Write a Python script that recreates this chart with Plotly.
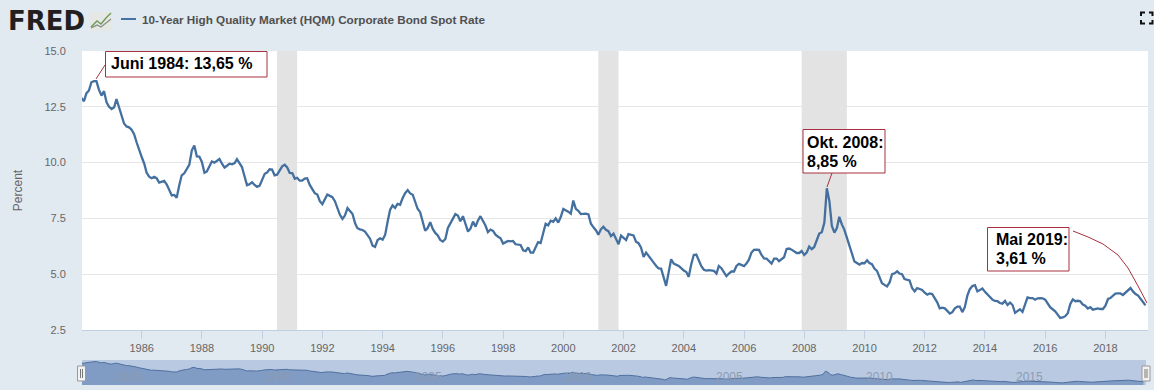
import pandas as pd
import plotly.graph_objects as go

W, H = 1154, 390

r1984 = [12.89, 12.75, 13.10, 13.23, 13.60, 13.65, 13.65, 13.26, 13.00, 13.20, 12.70, 12.50]
r1985 = [12.40, 12.48, 12.85, 12.50, 12.10, 11.75, 11.62, 11.58, 11.47, 11.27, 10.90, 10.55]
r1986 = [10.25, 9.95, 9.55, 9.37, 9.30, 9.36, 9.30, 9.10, 9.15, 9.18, 9.02, 8.80]
r1987 = [8.53, 8.55, 8.42, 8.97, 9.43, 9.52, 9.69, 9.90, 10.55, 10.76, 10.28, 10.27]
r1988 = [10.03, 9.54, 9.60, 9.83, 10.05, 10.00, 10.06, 10.16, 9.95, 9.78, 9.86, 9.95]
r1989 = [9.92, 9.98, 10.15, 10.00, 9.80, 9.39, 8.99, 9.03, 9.12, 9.00, 8.91, 8.97]
r1990 = [9.20, 9.50, 9.55, 9.70, 9.69, 9.43, 9.46, 9.66, 9.83, 9.90, 9.78, 9.54]
r1991 = [9.53, 9.28, 9.32, 9.19, 9.19, 9.28, 9.30, 9.00, 8.78, 8.63, 8.57, 8.27]
r1992 = [8.14, 8.40, 8.57, 8.51, 8.45, 8.27, 7.93, 7.66, 7.48, 7.63, 7.96, 7.85]
r1993 = [7.70, 7.28, 7.06, 7.01, 6.98, 6.91, 6.73, 6.59, 6.28, 6.22, 6.53, 6.61]
r1994 = [6.55, 6.77, 7.33, 7.88, 8.08, 7.97, 8.15, 8.11, 8.41, 8.63, 8.77, 8.62]
r1995 = [8.56, 8.23, 7.93, 7.78, 7.33, 6.95, 7.07, 7.33, 7.03, 6.85, 6.74, 6.53]
r1996 = [6.46, 6.58, 7.06, 7.27, 7.48, 7.69, 7.63, 7.37, 7.60, 7.25, 6.91, 7.04]
r1997 = [7.36, 7.13, 7.40, 7.60, 7.40, 7.18, 6.88, 7.00, 6.94, 6.77, 6.68, 6.61]
r1998 = [6.37, 6.44, 6.49, 6.47, 6.49, 6.34, 6.34, 6.31, 6.07, 6.03, 6.20, 5.97]
r1999 = [5.97, 6.23, 6.44, 6.40, 6.86, 7.26, 7.19, 7.40, 7.35, 7.50, 7.31, 7.56]
r2000 = [7.92, 7.87, 7.80, 7.71, 8.30, 7.93, 7.84, 7.69, 7.71, 7.71, 7.68, 7.26]
r2001 = [7.10, 6.96, 6.77, 7.01, 7.13, 6.99, 6.93, 6.71, 6.82, 6.56, 6.34, 6.73]
r2002 = [6.64, 6.53, 6.80, 6.77, 6.74, 6.46, 6.39, 6.19, 5.77, 5.97, 5.80, 5.65]
r2003 = [5.52, 5.37, 5.26, 5.25, 4.85, 4.48, 5.07, 5.67, 5.48, 5.42, 5.37, 5.27]
r2004 = [5.16, 5.10, 4.88, 5.45, 5.86, 5.88, 5.63, 5.36, 5.20, 5.16, 5.18, 5.18]
r2005 = [5.15, 5.03, 5.37, 5.27, 5.07, 4.91, 5.03, 5.12, 5.12, 5.37, 5.46, 5.42]
r2006 = [5.36, 5.49, 5.65, 5.97, 6.09, 6.10, 6.09, 5.86, 5.71, 5.70, 5.60, 5.48]
r2007 = [5.70, 5.70, 5.58, 5.68, 5.76, 6.13, 6.15, 6.10, 6.04, 5.95, 5.95, 6.04]
r2008 = [5.86, 5.98, 6.24, 6.12, 6.22, 6.56, 6.82, 6.88, 7.31, 8.85, 8.27, 7.16]
r2009 = [6.86, 7.08, 7.57, 7.23, 7.00, 6.64, 6.26, 5.89, 5.57, 5.50, 5.43, 5.50]
r2010 = [5.49, 5.62, 5.50, 5.45, 5.25, 5.15, 4.85, 4.60, 4.52, 4.45, 4.63, 5.00]
r2011 = [5.04, 5.13, 5.03, 5.00, 4.78, 4.75, 4.72, 4.38, 4.23, 4.38, 4.32, 4.29]
r2012 = [4.17, 4.08, 4.14, 4.11, 3.93, 3.74, 3.47, 3.50, 3.47, 3.34, 3.24, 3.30]
r2013 = [3.47, 3.55, 3.55, 3.30, 3.52, 4.04, 4.33, 4.47, 4.51, 4.23, 4.30, 4.36]
r2014 = [4.21, 4.08, 3.99, 3.86, 3.80, 3.79, 3.71, 3.68, 3.80, 3.62, 3.73, 3.62]
r2015 = [3.27, 3.37, 3.43, 3.31, 3.67, 3.96, 3.93, 3.93, 3.86, 3.92, 3.93, 3.92]
r2016 = [3.86, 3.71, 3.52, 3.43, 3.34, 3.19, 3.04, 3.06, 3.12, 3.25, 3.67, 3.87]
r2017 = [3.79, 3.81, 3.79, 3.64, 3.59, 3.46, 3.52, 3.41, 3.43, 3.47, 3.44, 3.44]
r2018 = [3.59, 3.89, 3.93, 4.04, 4.13, 4.14, 4.14, 4.07, 4.19, 4.30, 4.38, 4.23]
r2019 = [4.11, 4.04, 3.89, 3.76, 3.61]

rates = (r1984 + r1985 + r1986 + r1987 + r1988 + r1989 + r1990 + r1991 + r1992
         + r1993 + r1994 + r1995 + r1996 + r1997 + r1998 + r1999 + r2000 + r2001
         + r2002 + r2003 + r2004 + r2005 + r2006 + r2007 + r2008 + r2009 + r2010
         + r2011 + r2012 + r2013 + r2014 + r2015 + r2016 + r2017 + r2018 + r2019)
dates = pd.date_range("1984-01-01", periods=len(rates), freq="MS")

x_range = ["1984-01-08", "2019-06-01"]
recession_start = ["1990-07-01", "2001-03-01", "2007-12-01"]
recession_end = ["1991-03-01", "2001-11-01", "2009-06-01"]
x_tick_years = list(range(1986, 2019, 2))
y_ticks = [2.5, 5.0, 7.5, 10.0, 12.5, 15.0]
nav_years = [1985, 1990, 1995, 2000, 2005, 2010, 2015]
series_name = "10-Year High Quality Market (HQM) Corporate Bond Spot Rate"


def px(x):
    return x / W


def py(y):
    return 1 - y / H


def pline(points, color, width):
    d = "M " + " L ".join(f"{px(a):.5f},{py(b):.5f}" for a, b in points)
    return dict(type="path", xref="paper", yref="paper", path=d, layer="above",
                line=dict(color=color, width=width))


def prect(x0, y0, x1, y1, fill, line=None, width=1, layer="above"):
    return dict(type="rect", xref="paper", yref="paper", x0=px(x0), x1=px(x1),
                y0=py(y0), y1=py(y1), layer=layer, fillcolor=fill,
                line=dict(color=line or "rgba(0,0,0,0)", width=width))


def text(x, y, s, size, color="#000000", bold=False, family="Liberation Sans"):
    return dict(xref="paper", yref="paper", x=px(x), y=py(y), text=s, showarrow=False,
                xanchor="left", yanchor="middle", align="left",
                font=dict(family=family, size=size, color=color,
                          weight=700 if bold else 400))


BG = "#E1E9F1"
RED = "#A8303F"
LINE = "#44709F"

fig = go.Figure()
fig.add_trace(go.Scatter(x=dates, y=rates, mode="lines", name=series_name,
                         line=dict(color=LINE, width=2.3), showlegend=False,
                         xaxis="x", yaxis="y", hoverinfo="skip"))
fig.add_trace(go.Scatter(x=dates, y=rates, mode="lines", fill="tozeroy",
                         fillcolor="#809CC4", line=dict(color="#4F709F", width=1),
                         showlegend=False, xaxis="x2", yaxis="y2", hoverinfo="skip"))

shapes = []
for a, b in zip(recession_start, recession_end):
    shapes.append(dict(type="rect", xref="x", yref="y", x0=a, x1=b, y0=y_ticks[0], y1=y_ticks[-1],
                       layer="between", fillcolor="#E3E3E3", line=dict(width=0)))

# navigator backdrop and handles
shapes.append(prect(82, 360, 1146, 385, "#B9C9E1", layer="below"))
for hx in (77.5, 1142):
    shapes.append(prect(hx, 366, hx + 8, 381, "#F2F2F2", "#999999"))
    shapes.append(pline([(hx + 3, 369), (hx + 3, 378)], "#777777", 1))
    shapes.append(pline([(hx + 5, 369), (hx + 5, 378)], "#777777", 1))

# legend sample
shapes.append(pline([(121, 19), (136, 19)], "#4572A7", 2))

# logo icon
shapes.append(prect(90, 12, 112, 31, "#E6E8E6", layer="above"))
shapes.append(pline([(91, 28), (97, 25), (101, 27), (106, 23), (111, 19)], "#8A948A", 1.4))
shapes.append(pline([(91, 27), (97, 21), (101, 24), (106, 18), (111, 13)], "#6F9A58", 1.4))

# fullscreen icon
for pts in ([(1141, 16), (1141, 12.5), (1145, 12.5)], [(1149, 12.5), (1152.5, 12.5), (1152.5, 16)],
            [(1141, 20), (1141, 23.5), (1145, 23.5)], [(1149, 23.5), (1152.5, 23.5), (1152.5, 20)]):
    shapes.append(pline(pts, "#111111", 2))

# callouts
shapes.append(pline([(105, 65), (96, 79)], RED, 1))
shapes.append(prect(105.5, 51.5, 267, 77, "#FFFFFF", RED, 1))
shapes.append(pline([(832, 173), (827, 187)], RED, 1))
shapes.append(prect(803, 129.5, 885, 173, "#FFFFFF", RED, 1))
shapes.append(pline([(1073, 231), (1088, 237), (1103, 244), (1118, 255), (1128, 268),
                     (1138, 286), (1147, 303)], RED, 1))
shapes.append(prect(987.5, 227.5, 1069, 271, "#FFFFFF", RED, 1))

annotations = [
    text(6, 21, "FRED", 26, "#231F20", True, "DejaVu Sans"),
    text(140, 19, series_name, 11.7, "#505050", True),
    text(108.5, 64, "Juni 1984: 13,65 %", 16, "#000000", True),
    text(804.5, 142, "Okt. 2008:", 16, "#000000", True),
    text(804.5, 161, "8,85 %", 16, "#000000", True),
    text(994, 239, "Mai 2019:", 16, "#000000", True),
    text(994, 258, "3,61 %", 16, "#000000", True),
]
for yr in nav_years:
    annotations.append(dict(xref="x2", yref="paper", x=f"{yr}-01-01", y=py(377), text=str(yr),
                            showarrow=False, xanchor="left", yanchor="middle", xshift=1,
                            font=dict(family="Liberation Sans", size=12, color="#8D9BB3")))

fig.update_layout(
    width=W, height=H, autosize=False,
    margin=dict(l=0, r=0, t=0, b=0),
    paper_bgcolor=BG, plot_bgcolor="#FFFFFF",
    font=dict(family="Liberation Sans", size=11, color="#666666"),
    showlegend=False, shapes=shapes, annotations=annotations,
    xaxis=dict(domain=[px(82), px(1148)], range=x_range, anchor="y",
               tickmode="array", tickvals=[f"{y}-01-01" for y in x_tick_years],
               ticktext=[str(y) for y in x_tick_years],
               showgrid=False, zeroline=False, ticks="outside", ticklen=8, tickwidth=1,
               tickcolor="#C0D0E0", showline=True, linecolor="#C0D0E0", linewidth=1,
               tickangle=0, automargin=False, tickfont=dict(size=11, color="#666666")),
    yaxis=dict(domain=[py(330), py(51)], range=[2.5, 15.0], anchor="x",
               tickmode="array", tickvals=y_ticks, ticktext=[f"{v:.1f}" for v in y_ticks],
               showgrid=True, gridcolor="#E6E6E6", gridwidth=1, zeroline=False, showline=False,
               ticks="outside", ticklen=13, tickcolor="rgba(0,0,0,0)", automargin=False,
               tickfont=dict(size=11, color="#666666"),
               title=dict(text="Percent", standoff=19, font=dict(size=12, color="#666666"))),
    xaxis2=dict(domain=[px(82), px(1146)], range=x_range, anchor="y2",
                visible=False, automargin=False),
    yaxis2=dict(domain=[py(385), py(360)], range=[2.0, 14.4], anchor="x2",
                visible=False, automargin=False),
)

fig.write_html("out.html", config=dict(displayModeBar=False, responsive=False),
               post_script="document.body.style.margin='0';document.body.style.overflow='hidden';")
